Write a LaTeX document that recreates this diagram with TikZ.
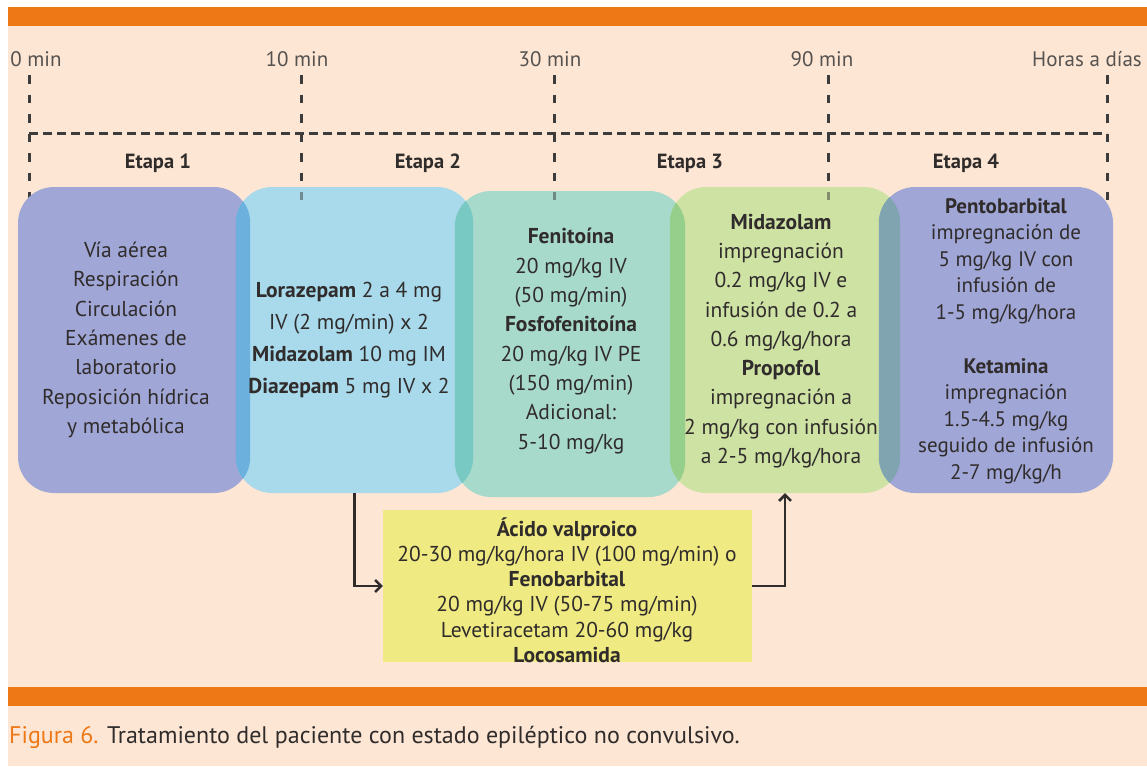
\documentclass[tikz,border=0pt]{standalone}
\usepackage{fontspec}
\setmainfont{PT Sans}
\usetikzlibrary{arrows.meta}

\definecolor{peach}{RGB}{253,230,211}
\definecolor{barorange}{RGB}{238,120,22}
\definecolor{dashgray}{RGB}{60,60,60}
\definecolor{inkdark}{RGB}{48,44,44}
\definecolor{timegray}{RGB}{85,82,80}
\definecolor{lilac}{RGB}{160,166,214}
\definecolor{skyblue}{RGB}{168,218,236}
\definecolor{seafoam}{RGB}{168,218,204}
\definecolor{pistachio}{RGB}{206,226,164}
\definecolor{lemon}{RGB}{240,234,130}
\definecolor{lensA}{RGB}{108,176,222}
\definecolor{lensB}{RGB}{120,200,196}
\definecolor{lensC}{RGB}{150,206,140}
\definecolor{lensD}{RGB}{128,164,176}

\tikzset{
  stagebox/.style={draw=none, inner sep=0pt, rounded corners=36pt},
  stagetext/.style={align=center, text=inkdark, inner sep=0pt,
    font=\fontsize{21.5}{29.3}\selectfont},
  timelabel/.style={text=timegray, inner sep=0pt, anchor=base,
    font=\fontsize{21}{24}\selectfont},
  etapa/.style={text=inkdark, inner sep=0pt,
    font=\fontsize{20.5}{24}\selectfont\bfseries},
  timeline/.style={draw=dashgray, line width=3pt, dash pattern=on 8.5pt off 11pt},
  stageline/.style={draw=dashgray, line width=3pt, dash pattern=on 8.5pt off 5.5pt},
  flow/.style={draw=inkdark, line width=2.5pt,
    -{Straight Barb[length=6pt,width=12pt,line width=2.5pt]}}
}

\begin{document}
\begin{tikzpicture}[x=1pt,y=-1pt]
\useasboundingbox (0,0) rectangle (1147,766);
% page background and orange rules
\fill[white] (0,0) rectangle (1147,766);
\fill[peach] (8,7) rectangle (1147,766);
\fill[barorange] (8,7) rectangle (1147,26);
\fill[barorange] (8,687) rectangle (1147,706);

% time marks
\node[timelabel] (m0)  at (36,66)  {0 min};
\node[timelabel] (m10) at (297,66) {10 min};
\node[timelabel] (m30) at (550,66) {30 min};
\node[timelabel] (m90) at (822,66) {90 min};
\node[timelabel, anchor=base west] (mh) at (1032,66) {Horas a días};

\coordinate (v0t) at (29,75);   \coordinate (v0b) at (29,200);
\coordinate (v1t) at (301,75);  \coordinate (v1b) at (301,200);
\coordinate (v2t) at (554,75);  \coordinate (v2b) at (554,200);
\coordinate (v3t) at (828,75);  \coordinate (v3b) at (828,200);
\coordinate (v4t) at (1107,75); \coordinate (v4b) at (1107,200);
\coordinate (hl) at (29,133);   \coordinate (hr) at (1107,133);

\foreach \v in {0,...,4} \draw[timeline] (v\v t) -- (v\v b);
\draw[stageline] (hl) -- (hr);

% stage titles
\node[etapa] (e1) at (158,163) {Etapa 1};
\node[etapa] (e2) at (428,163) {Etapa 2};
\node[etapa] (e3) at (690,163) {Etapa 3};
\node[etapa] (e4) at (966,163) {Etapa 4};

% stage boxes
\node[stagebox, fill=lilac,     minimum width=232pt, minimum height=306pt] (b1) at (134,340) {};
\node[stagebox, fill=skyblue,   minimum width=237pt, minimum height=306pt] (b2) at (354.5,340) {};
\node[stagebox, fill=seafoam,   minimum width=230pt, minimum height=306pt] (b3) at (570,344) {};
\node[stagebox, fill=pistachio, minimum width=230pt, minimum height=306pt] (b4) at (785,340) {};
\node[stagebox, fill=lilac,     minimum width=234pt, minimum height=306pt] (b5) at (996,340) {};

% overlaps between neighbouring boxes
\foreach \a/\b/\c in {b1/b2/lensA, b2/b3/lensB, b3/b4/lensC, b4/b5/lensD}{
  \begin{scope}
    \clip[rounded corners=36pt] (\a.south west) rectangle (\a.north east);
    \fill[\c, rounded corners=36pt] (\b.south west) rectangle (\b.north east);
  \end{scope}
}

% time marks seen through the boxes
\foreach \bx/\v in {b2/1, b3/2, b4/3}{
  \begin{scope}
    \clip[rounded corners=36pt] (\bx.south west) rectangle (\bx.north east);
    \draw[timeline, draw opacity=0.5] (v\v t) -- (v\v b);
  \end{scope}
}

% box contents
\node[stagetext] (t1) at (126,340) {Vía aérea\\Respiración\\Circulación\\Exámenes de\\laboratorio\\Reposición hídrica\\y metabólica};
\node[stagetext, font=\fontsize{21.5}{31.8}\selectfont] (t2) at (349,340) {\textbf{Lorazepam} 2 a 4 mg\\IV (2 mg/min) x 2\\\textbf{Midazolam} 10 mg IM\\\textbf{Diazepam} 5 mg IV x 2};
\node[stagetext] (t3) at (571,341) {\textbf{Fenitoína}\\20 mg/kg IV\\(50 mg/min)\\\textbf{Fosfofenitoína}\\20 mg/kg IV PE\\(150 mg/min)\\Adicional:\\5-10 mg/kg};
\node[stagetext] (t4) at (781,341) {\textbf{Midazolam}\\impregnación\\0.2 mg/kg IV e\\infusión de 0.2 a\\0.6 mg/kg/hora\\\textbf{Propofol}\\impregnación a\\2 mg/kg con infusión\\a 2-5 mg/kg/hora};
\node[stagetext, font=\fontsize{21}{26.6}\selectfont] (t5) at (1006,341) {\textbf{Pentobarbital}\\impregnación de\\5 mg/kg IV con\\infusión de\\1-5 mg/kg/hora\\[27pt]\textbf{Ketamina}\\impregnación\\1.5-4.5 mg/kg\\seguido de infusión\\2-7 mg/kg/h};

% alternative second-line drugs
\node[fill=lemon, inner sep=0pt, minimum width=369pt, minimum height=152pt] (y) at (567.5,586) {};
\node[stagetext, font=\fontsize{21.5}{25.2}\selectfont] (ty) at (567,590) {\textbf{Ácido valproico}\\20-30 mg/kg/hora IV (100 mg/min) o\\\textbf{Fenobarbital}\\20 mg/kg IV (50-75 mg/min)\\Levetiracetam 20-60 mg/kg\\\textbf{Locosamida}};

\draw[flow] (b2.south) |- (y.west);
\draw[flow] (y.east) -| (b4.south);

% caption
\node[anchor=base west, inner sep=0pt, text=inkdark, font=\fontsize{24}{28}\selectfont] (cap) at (9,743)
  {{\color{barorange}Figura 6.} Tratamiento del paciente con estado epiléptico no convulsivo.};
\end{tikzpicture}
\end{document}
